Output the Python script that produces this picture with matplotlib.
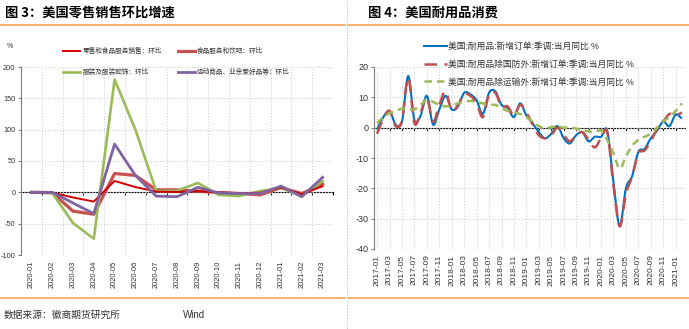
import numpy as np
import pandas as pd
import matplotlib
matplotlib.use("Agg")
import matplotlib.pyplot as plt
from matplotlib.path import Path
from matplotlib.patches import PathPatch
from matplotlib.lines import Line2D

plt.rcParams['font.family'] = ['Liberation Sans', 'Noto Sans CJK SC']
plt.rcParams['axes.unicode_minus'] = False

# ----------------------------------
# Data: left chart (retail sales, MoM %)
# ----------------------------------
months_l = ['2020-01', '2020-02', '2020-03', '2020-04', '2020-05', '2020-06',
            '2020-07', '2020-08', '2020-09', '2020-10', '2020-11', '2020-12',
            '2021-01', '2021-02', '2021-03']
retail = [0.0, -0.5, -8.2, -14.7, 18.2, 8.4, 1.2, 0.6, 1.9, -0.1, -1.1, -0.7, 7.6, -3.0, 9.8]
food = [0.0, -0.5, -30.0, -35.0, 30.0, 27.0, 4.0, 4.0, 2.0, -0.5, -2.0, -4.0, 7.5, -2.0, 13.0]
apparel = [0.0, -1.0, -49.0, -74.0, 180.0, 100.0, 2.0, 2.5, 15.0, -4.0, -6.0, 2.0, 7.0, -6.0, 18.0]
sporting = [0.0, 0.0, -17.0, -34.0, 77.0, 27.0, -6.0, -7.0, 8.0, -1.0, -2.0, -2.0, 10.0, -7.0, 24.0]

legend_l = ['零售和食品服务销售：环比', '食品服务和饮吧：环比',
            '服装及服装配饰：环比', '运动商品、业余爱好品等：环比']

# ----------------------------------
# Data: right chart (durable goods, YoY %)
# ----------------------------------
months_r = list(pd.date_range('2017-01', periods=50, freq='MS').strftime('%Y-%m'))
durable = [-0.5, 3.5, 5.5, 1.0, 2.0, 17.0, 2.5, 4.0, 10.5, 1.0,
           6.0, 10.5, 6.0, 7.0, 11.5, 11.0, 9.0, 4.5, 11.5, 12.0,
           7.5, 6.5, 3.5, 8.0, 4.0, 1.5, -1.5, -3.5, -2.0, 0.5,
           -3.5, -5.2, -2.5, -1.5, -4.5, -3.0, -3.0, -1.0, -18.0, -32.5,
           -20.0, -16.0, -8.0, -7.0, -3.5, -1.0, 2.0, 0.5, 4.3, 3.0]
ex_defense = [-2.0, 3.0, 5.5, 0.5, 2.5, 16.5, 1.5, 5.0, 10.0, 2.0,
              7.5, 12.0, 5.5, 7.5, 11.0, 10.5, 8.0, 3.5, 11.0, 11.5,
              7.0, 7.0, 4.0, 7.5, 5.0, 1.0, -2.5, -3.5, -2.5, 0.0,
              -2.5, -4.5, -2.5, -1.5, -4.0, -6.5, -3.5, -1.5, -19.0, -32.5,
              -22.0, -16.0, -8.5, -7.5, -4.5, -0.5, 2.0, 4.5, 4.0, 5.0]
ex_transport = [1.5, 3.5, 4.8, 5.5, 6.3, 6.2, 6.0, 7.5, 9.3, 8.5,
                7.5, 7.0, 7.5, 8.0, 8.5, 8.8, 8.5, 8.0, 7.5, 7.5,
                6.5, 5.5, 5.0, 4.5, 3.5, 2.0, 0.5, -0.3, 0.2, 0.3,
                0.0, 0.0, -0.3, -0.8, -1.2, -1.5, -1.0, -4.0, -8.5, -13.5,
                -9.5, -6.0, -4.0, -3.0, -2.0, 0.0, 2.0, 3.5, 5.5, 8.0]

legend_r = ['美国:耐用品:新增订单:季调:当月同比 %',
            '美国:耐用品除国防外:新增订单:季调:当月同比 %',
            '美国:耐用品除运输外:新增订单:季调:当月同比 %']


def smooth_path(xs, ys):
    # Bezier path through the points, like a smoothed Excel line
    pts = np.column_stack([xs, ys]).astype(float)
    n = len(pts)
    verts = [pts[0]]
    codes = [Path.MOVETO]
    for i in range(n - 1):
        p0 = pts[i - 1] if i > 0 else pts[i]
        p1 = pts[i]
        p2 = pts[i + 1]
        p3 = pts[i + 2] if i + 2 < n else pts[i + 1]
        verts += [p1 + (p2 - p0) / 6, p2 - (p3 - p1) / 6, p2]
        codes += [Path.CURVE4] * 3
    return Path(verts, codes)


fig = plt.figure(figsize=(6.89, 3.29), dpi=100)
W, H = 689, 329

# ----------------------------------
# Left chart
# ----------------------------------
ax1 = fig.add_axes([21 / W, 74 / H, 312 / W, 188 / H])
xl = np.arange(len(months_l))
ax1.set_xlim(-0.5, len(months_l) - 0.5)
ax1.set_ylim(-100, 200)
ax1.set_yticks(range(-100, 201, 50))
ax1.set_xticks(xl)
ax1.set_xticklabels(months_l, rotation=90, fontsize=5.4, color='#333333')
ax1.set_xticks(np.arange(0.5, len(months_l), 1), minor=True)
ax1.tick_params(axis='x', which='both', length=0, pad=4)
ax1.tick_params(axis='y', length=2, color='#7F7F7F', labelsize=5.3, pad=2, labelcolor='#333333')
for s in ['top', 'right', 'bottom']:
    ax1.spines[s].set_visible(False)
ax1.spines['left'].set_color('#7F7F7F')
ax1.yaxis.grid(True, ls=':', color='#D0D0D0', lw=0.8)
ax1.xaxis.grid(True, which='minor', ls=':', color='#D0D0D0', lw=0.8)
ax1.set_axisbelow(True)

zero1 = ax1.secondary_xaxis(1 / 3)
zero1.set_xticks(np.arange(0.5, len(months_l), 1))
zero1.set_xticklabels([])
zero1.spines['bottom'].set_color('black')
zero1.tick_params(length=2.5, width=0.8, color='black')

h_food, = ax1.plot(xl, food, color='#C9504D', lw=2.3, label=legend_l[1])
h_app, = ax1.plot(xl, apparel, color='#9BBB59', lw=1.9, label=legend_l[2])
h_ret, = ax1.plot(xl, retail, color='#D00000', lw=1.4, label=legend_l[0])
h_spo, = ax1.plot(xl, sporting, color='#8064A2', lw=2.0, label=legend_l[3])

ax1.legend(handles=[h_ret, h_app, h_food, h_spo], ncol=2, loc='upper left',
           bbox_to_anchor=(63 / W, 1 - 48 / H), bbox_transform=fig.transFigure,
           frameon=False, fontsize=4.8, handlelength=2.6, handletextpad=0.3,
           columnspacing=2.4, labelspacing=2.1, borderpad=0, borderaxespad=0,
           labelcolor='#333333')

fig.text(7 / W, 1 - 46 / H, '%', fontsize=5, color='#333333', va='center')

# ----------------------------------
# Right chart
# ----------------------------------
ax2 = fig.add_axes([374 / W, 80 / H, 311 / W, 182 / H])
xr = np.arange(len(months_r))
ax2.set_xlim(-0.5, len(months_r) - 0.5)
ax2.set_ylim(-40, 20)
ax2.set_yticks(range(-40, 21, 10))
ax2.set_xticks(xr[::2])
ax2.set_xticklabels(months_r[::2], rotation=90, fontsize=6, color='#333333')
ax2.tick_params(axis='x', length=0, pad=4)
ax2.tick_params(axis='y', length=2, color='#7F7F7F', labelsize=6.5, pad=2, labelcolor='#333333')
for s in ['top', 'right', 'bottom']:
    ax2.spines[s].set_visible(False)
ax2.spines['left'].set_color('#7F7F7F')
ax2.grid(True, ls=':', color='#D0D0D0', lw=0.8)
ax2.set_axisbelow(True)

zero2 = ax2.secondary_xaxis(2 / 3)
zero2.set_alignment('bottom')
zero2.set_xticks(xr[::2])
zero2.set_xticklabels([])
zero2.spines['bottom'].set_color('black')
zero2.tick_params(length=2.5, width=0.8, color='black')

styles = [
    (durable, '#0070C0', 1.5, '-'),
    (ex_defense, '#C0504D', 1.8, (0, (5, 3))),
    (ex_transport, '#9BBB59', 1.8, (0, (3, 2))),
]
handles_r = []
for (ys, c, lw, ls), lab in zip(styles, legend_r):
    ax2.add_patch(PathPatch(smooth_path(xr, ys), fill=False, edgecolor=c,
                            lw=lw, linestyle=ls, capstyle='butt'))
    handles_r.append(Line2D([], [], color=c, lw=lw, linestyle=ls, label=lab))

ax2.legend(handles=handles_r, loc='upper left',
           bbox_to_anchor=(424 / W, 1 - 42 / H), bbox_transform=fig.transFigure,
           frameon=False, fontsize=6.3, handlelength=2.6, handletextpad=0.2,
           labelspacing=1.0, borderpad=0, borderaxespad=0, labelcolor='#333333')

# ----------------------------------
# Titles, rules and source
# ----------------------------------
fig.text(5 / W, 1 - 13 / H, '图 3：美国零售销售环比增速', fontsize=9.5,
         fontweight='bold', va='center', family=['Noto Sans CJK SC'])
fig.text(368 / W, 1 - 13 / H, '图 4：美国耐用品消费', fontsize=9.5,
         fontweight='bold', va='center', family=['Noto Sans CJK SC'])

orange = '#F39A45'
for x0, x1 in [(0, 345), (348, 689)]:
    for y in [25, 298]:
        fig.add_artist(Line2D([x0 / W, x1 / W], [1 - y / H, 1 - y / H],
                              transform=fig.transFigure, color=orange, lw=1.1))
fig.add_artist(Line2D([346.5 / W, 346.5 / W], [0, 1], transform=fig.transFigure,
                      color='#BFBFBF', lw=0.6, linestyle=(0, (2, 2))))

fig.text(4 / W, 1 - 315 / H, '数据来源：徽商期货研究所', fontsize=7,
         color='#333333', va='center', family=['Noto Sans CJK SC'])
fig.text(183 / W, 1 - 315 / H, 'Wind', fontsize=7, color='#333333', va='center')

fig.savefig('out.png', dpi=100)
